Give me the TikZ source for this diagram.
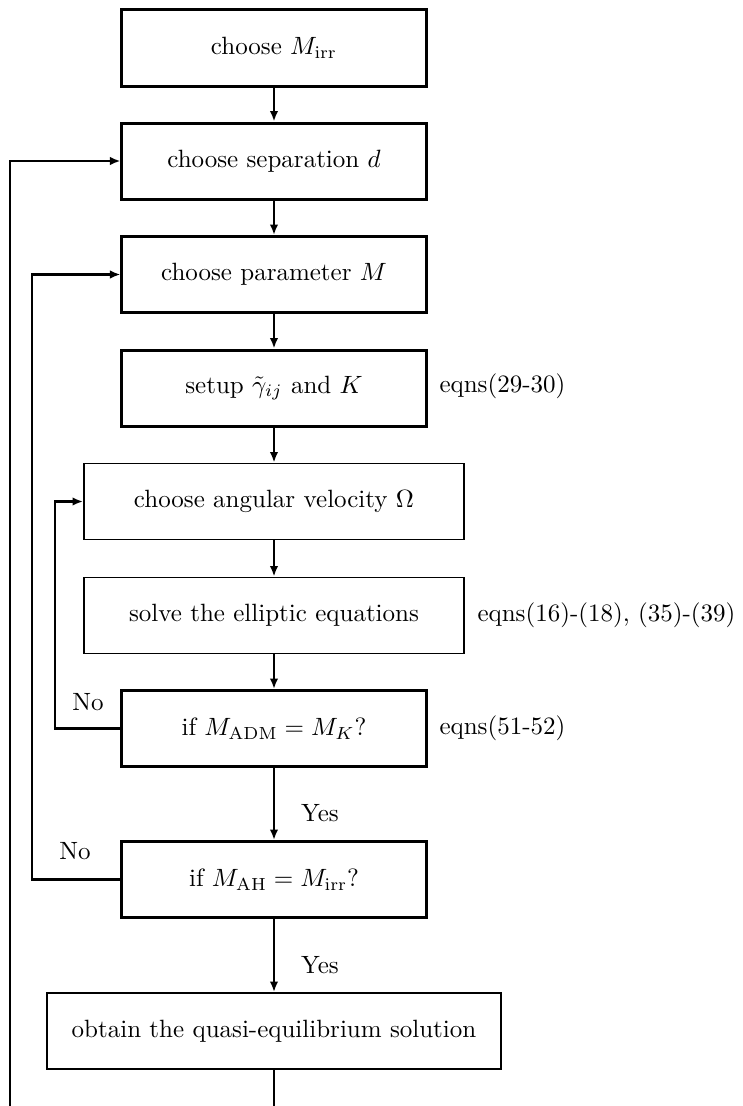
\documentclass[tikz,border=0pt]{standalone}
\usetikzlibrary{arrows.meta}
\begin{document}
\begin{tikzpicture}[x=0.4pt,y=-0.4pt,
  thickbox/.style={draw,line width=1.2pt,rectangle,inner sep=0pt,minimum width=121.6pt,minimum height=30.4pt},
  thinbox/.style={draw,line width=0.75pt,rectangle,inner sep=0pt,minimum height=30.4pt},
  conn/.style={line width=1.1pt,-{Latex[length=4.2pt,width=3.4pt]}},
  plain/.style={line width=1.1pt},
  lbl/.style={inner sep=0pt,anchor=west}]
\useasboundingbox (0,0) rectangle (742,1106);
\node[thickbox] (b1) at (274,48) {choose $M_{\mathrm{irr}}$};
\node[thickbox] (b2) at (274,161) {choose separation $d$};
\node[thickbox] (b3) at (274,274.5) {choose parameter $M$};
\node[thickbox] (b4) at (274,388) {setup $\tilde\gamma_{ij}$ and $K$};
\node[thinbox,minimum width=152pt] (b5) at (274,501.5) {choose angular velocity $\Omega$};
\node[thinbox,minimum width=152pt] (b6) at (274,615.5) {solve the elliptic equations};
\node[thickbox] (b7) at (274,728.5) {if $M_{\mathrm{ADM}}=M_K$?};
\node[thickbox] (b8) at (274,879.5) {if $M_{\mathrm{AH}}=M_{\mathrm{irr}}$?};
\node[thinbox,minimum width=181.6pt] (b9) at (274,1031) {obtain the quasi-equilibrium solution};
\node[lbl] (e1) at (439,386) {eqns(29-30)};
\node[lbl] (e2) at (477,615) {eqns(16)-(18), (35)-(39)};
\node[lbl] (e3) at (439,728) {eqns(51-52)};
\node (no1) at (88,702) {No};
\node (no2) at (75,851) {No};
\node (yes1) at (320,813) {Yes};
\node (yes2) at (320,965) {Yes};
\draw[conn] (b1) -- (b2);
\draw[conn] (b2) -- (b3);
\draw[conn] (b3) -- (b4);
\draw[conn] (b4) -- (b5);
\draw[conn] (b5) -- (b6);
\draw[conn] (b6) -- (b7);
\draw[conn] (b7) -- (b8);
\draw[conn] (b8) -- (b9);
\coordinate (bot) at (274,1106);
\draw[plain] (b9) -- (bot);
\coordinate (k1) at (10,1106);
\coordinate (k2) at (32,0);
\coordinate (k3) at (55,0);
\draw[conn] (k1) |- (b2.west);
\draw[conn] (b8.west) -- (b8.west -| k2) -- (b3.west -| k2) -- (b3.west);
\draw[conn,line width=0.85pt] (b7.west) -- (b7.west -| k3) -- (b5.west -| k3) -- (b5.west);
\end{tikzpicture}
\end{document}
